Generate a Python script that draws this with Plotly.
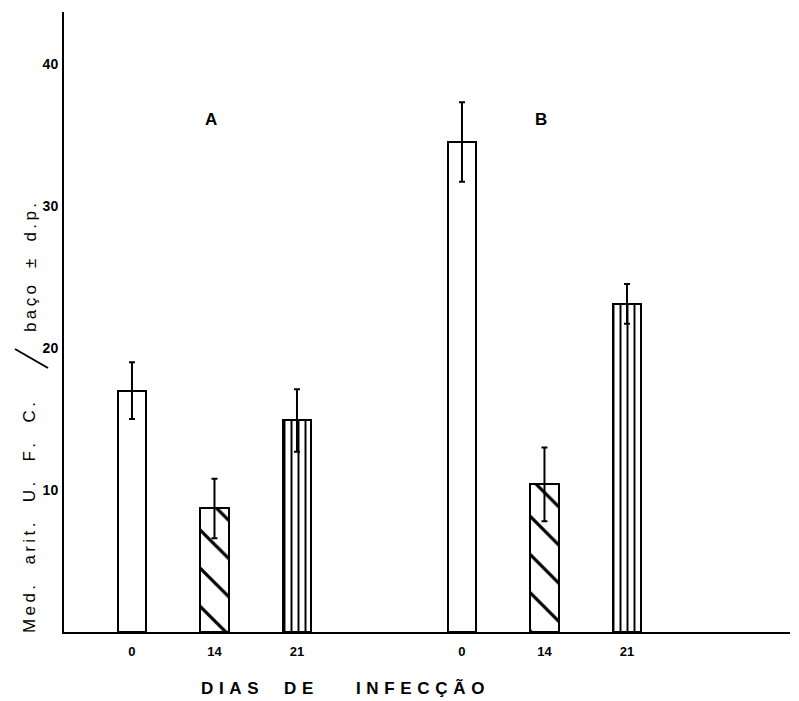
import plotly.graph_objects as go

# Spleen CFU counts (arithmetic mean ± s.d.) per day of infection, groups A and B
days = ["0", "14", "21"]
group_names = ["A", "B"]
mean_A = [17.0, 8.7, 14.9]
sd_A = [2.0, 2.1, 2.2]
mean_B = [34.5, 10.4, 23.1]
sd_B = [2.8, 2.6, 1.4]
y_tick_values = [10, 20, 30, 40]

# slot positions on the x axis: three days per group, one empty slot between the groups
slots_A = [1, 2, 3]
slots_B = [5, 6, 7]

# fill pattern per day: plain, diagonal hatching, vertical lines
hatch = ["", "\\", "|"]
hatch_size = [8, 27, 7]
hatch_solidity = [0.1, 0.12, 0.28]

W, H = 799, 701
ML, MR, MT, MB = 64, 9, 12, 69
PW, PH = W - ML - MR, H - MT - MB


def px(x):
    return (x - ML) / PW


def py(y):
    return (H - MB - y) / PH


def spaced(text, sep="\u2009", word_sep="\u2003"):
    """Letter-spaced text: sep between letters, word_sep between words."""
    return word_sep.join(sep.join(word) for word in text.split(" "))


FONT = "Liberation Sans, Arial, sans-serif"

fig = go.Figure()
for name, slots, means, sds in [("A", slots_A, mean_A, sd_A), ("B", slots_B, mean_B, sd_B)]:
    fig.add_trace(go.Bar(
        name=name,
        x=slots,
        y=means,
        width=0.34,
        marker=dict(
            color="white",
            line=dict(color="black", width=2),
            pattern=dict(shape=hatch, size=hatch_size, solidity=hatch_solidity,
                         fgcolor="black", bgcolor="white", fillmode="replace"),
        ),
        error_y=dict(type="data", array=sds, visible=True, color="black",
                     thickness=2, width=3),
        showlegend=False,
    ))

annotations = []
# group letters above the bars
for letter, xpix in zip(group_names, [211, 541]):
    annotations.append(dict(
        x=px(xpix), y=py(119), xref="paper", yref="paper", text=letter,
        showarrow=False, font=dict(family=FONT, size=17, color="black", weight="bold"),
        xanchor="center", yanchor="middle"))

# x axis title
x_title = (spaced("DIAS", sep="\u2004") + "\u2003\u2002" + spaced("DE", sep="\u2004")
           + "\u2003\u2003\u2002" + spaced("INFECÇÃO", sep="\u2004"))
annotations.append(dict(
    x=px(342), y=py(688), xref="paper", yref="paper",
    text=x_title,
    showarrow=False, font=dict(family=FONT, size=17, color="black", weight="bold"),
    xanchor="center", yanchor="middle"))

# y axis title written as a fraction: numerator, large slash, denominator
annotations.append(dict(
    x=px(29), y=py(518), xref="paper", yref="paper",
    text=spaced("Med. arit. U. F. C.", word_sep="\u2003\u2009"),
    textangle=-90, showarrow=False,
    font=dict(family=FONT, size=17, color="black"),
    xanchor="center", yanchor="middle"))
annotations.append(dict(
    x=px(30), y=py(268), xref="paper", yref="paper",
    text=spaced("baço ± d.p."),
    textangle=-90, showarrow=False,
    font=dict(family=FONT, size=17, color="black"),
    xanchor="center", yanchor="middle"))

shapes = [dict(type="line", xref="paper", yref="paper",
               x0=px(15), y0=py(349), x1=px(48), y1=py(368),
               line=dict(color="black", width=2))]

fig.update_layout(
    width=W, height=H,
    margin=dict(l=ML, r=MR, t=MT, b=MB),
    paper_bgcolor="white", plot_bgcolor="white",
    bargap=0,
    annotations=annotations,
    shapes=shapes,
    font=dict(family=FONT, color="black"),
    xaxis=dict(
        range=[0.176, 8.976],
        tickvals=slots_A + slots_B,
        ticktext=days + days,
        ticks="", showgrid=False, zeroline=False,
        showline=True, linecolor="black", linewidth=2,
        tickfont=dict(family=FONT, size=13, color="black", weight="bold"),
        ticklabelstandoff=6,
    ),
    yaxis=dict(
        range=[0, 43.66],
        tickvals=y_tick_values,
        ticks="", showgrid=False, zeroline=False,
        showline=True, linecolor="black", linewidth=2,
        tickfont=dict(family=FONT, size=14, color="black", weight="bold"),
        ticklabelstandoff=1,
    ),
)

fig.write_html("out.html")
